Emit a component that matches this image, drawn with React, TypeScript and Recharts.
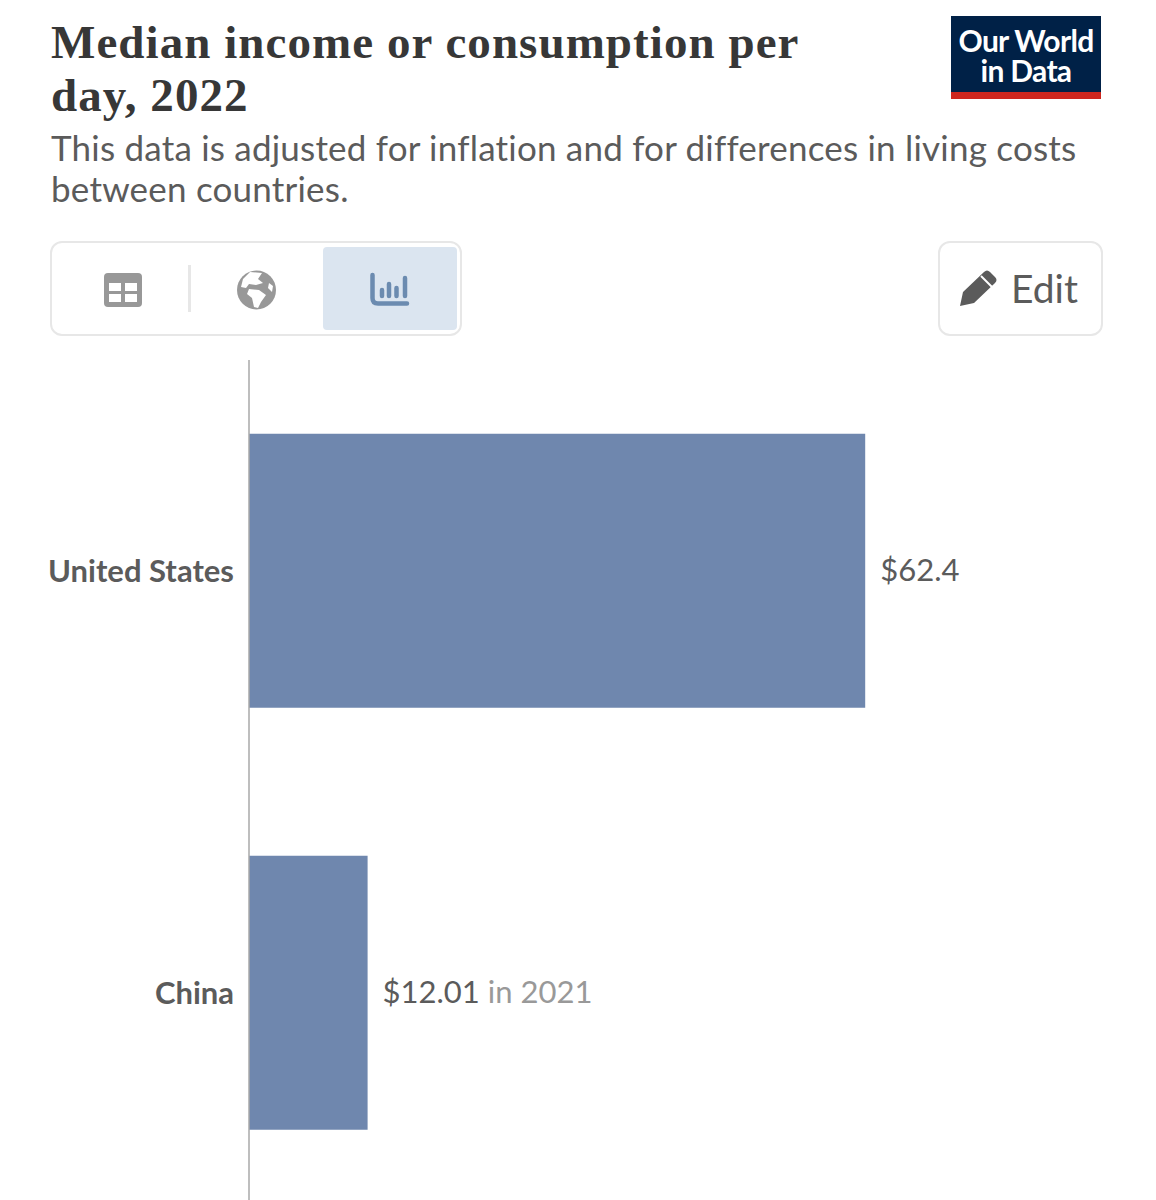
import { Bar, BarChart, LabelList, XAxis, YAxis } from "recharts";

const countries = ["United States", "China"];
const medianValues = [62.4, 12.01];
const valueLabels = ["$62.4", "$12.01"];
const yearNotes = ["", "in 2021"];

const data = countries.map((country, i) => ({
  country,
  value: medianValues[i],
  label: valueLabels[i],
  note: yearNotes[i],
}));

const LATO = "Lato, sans-serif";
const SERIF = "'Liberation Serif', 'DejaVu Serif', serif";

// Category names to the left of the axis line
const CountryTick = ({ x, y, payload }: any) => (
  <text
    x={x - 7}
    y={y + 11}
    textAnchor="end"
    fontFamily={LATO}
    fontWeight={700}
    fontSize={31}
    fill="#5b5b5b"
  >
    {payload.value}
  </text>
);

// Value at the bar end, with the grey year note after it
const ValueLabel = ({ x, y, width, height, index }: any) => (
  <text
    x={x + width + 15}
    y={y + height / 2 + 10}
    fontFamily={LATO}
    fontSize={31}
    fill="#5b5b5b"
  >
    {valueLabels[index]}
    {yearNotes[index] ? (
      <tspan fill="#999999" dx={8}>
        {yearNotes[index]}
      </tspan>
    ) : null}
  </text>
);

const Header = () => (
  <>
    <div
      style={{
        position: "absolute",
        left: 51,
        top: 16,
        width: 860,
        fontFamily: SERIF,
        fontWeight: 700,
        fontSize: 47,
        lineHeight: "53px",
        letterSpacing: 1.06,
        color: "#373737",
        whiteSpace: "pre",
      }}
    >
      {"Median income or consumption per\nday, 2022"}
    </div>
    <div
      style={{
        position: "absolute",
        left: 51,
        top: 127,
        fontFamily: LATO,
        fontSize: 35,
        lineHeight: "41px",
        letterSpacing: 0.21,
        color: "#5b5b5b",
        whiteSpace: "pre",
        fontVariantLigatures: "none",
      }}
    >
      {"This data is adjusted for inflation and for differences in living costs\nbetween countries."}
    </div>
  </>
);

const Logo = () => (
  <div
    style={{
      position: "absolute",
      left: 951,
      top: 16,
      width: 150,
      height: 67,
      background: "#002147",
      borderBottom: "7px solid #ce261e",
      color: "#fff",
      fontFamily: LATO,
      fontWeight: 700,
      fontSize: 30,
      lineHeight: "30px",
      letterSpacing: -0.7,
      textAlign: "center",
      paddingTop: 9,
      boxSizing: "content-box",
    }}
  >
    Our World
    <br />
    in Data
  </div>
);

const Controls = () => (
  <>
    <div
      style={{
        position: "absolute",
        left: 50,
        top: 241,
        width: 408,
        height: 91,
        border: "2px solid #e7e7e7",
        borderRadius: 12,
        background: "#fff",
      }}
    />
    <div
      style={{
        position: "absolute",
        left: 323,
        top: 247,
        width: 134,
        height: 83,
        background: "#dbe5f0",
        borderRadius: 4,
      }}
    />
    <div
      style={{
        position: "absolute",
        left: 188,
        top: 265,
        width: 3,
        height: 47,
        background: "#e7e7e7",
      }}
    />
    <svg
      style={{ position: "absolute", left: 0, top: 230 }}
      width={470}
      height={110}
      viewBox="0 230 470 110"
    >
      <rect x={104} y={273} width={38} height={34} rx={4} fill="#989898" />
      <rect x={109} y={283} width={12} height={8} fill="#fff" />
      <rect x={125} y={283} width={12} height={8} fill="#fff" />
      <rect x={109} y={294} width={12} height={8} fill="#fff" />
      <rect x={125} y={294} width={12} height={8} fill="#fff" />
      <circle cx={256.5} cy={290} r={19.5} fill="#989898" />
      <path
        d="M250 272 L262 273 L258 279 L263 283 L256 285 L249 284 L246 288 L241 287 L243 279 Z M249 289 L259 290 L266 295 L261 302 L258 308 L254 307 L252 298 L247 294 Z M269 283 L273 286 L272 292 L268 288 Z"
        fill="#fff"
      />
      <path
        d="M372.5 275 V298 Q372.5 303.5 378 303.5 H407"
        fill="none"
        stroke="#6b8bb0"
        strokeWidth={4.5}
        strokeLinecap="round"
      />
      <path
        d="M382 290 V296 M389 284 V296 M396.5 288 V296 M405 278 V296"
        fill="none"
        stroke="#6b8bb0"
        strokeWidth={4.5}
        strokeLinecap="round"
      />
    </svg>
    <div
      style={{
        position: "absolute",
        left: 938,
        top: 241,
        width: 161,
        height: 91,
        border: "2px solid #e7e7e7",
        borderRadius: 12,
        background: "#fff",
      }}
    />
    <svg
      style={{ position: "absolute", left: 955, top: 265 }}
      width={48}
      height={48}
      viewBox="955 265 48 48"
    >
      <path
        d="M960 306 L963 292 L984 272 Q987 269 990 272 L995 277 Q998 280 995 283 L974 303 Z"
        fill="#5b5b5b"
      />
      <path d="M981 276 L992 287" stroke="#fff" strokeWidth={2} />
    </svg>
    <div
      style={{
        position: "absolute",
        left: 1011,
        top: 265,
        fontFamily: LATO,
        fontSize: 39,
        lineHeight: "46px",
        color: "#5b5b5b",
      }}
    >
      Edit
    </div>
  </>
);

export default function App() {
  return (
    <div
      style={{
        position: "absolute",
        left: 0,
        top: 0,
        width: 1156,
        height: 1200,
        overflow: "hidden",
        background: "#fff",
      }}
    >
      <Header />
      <Logo />
      <Controls />
      <div style={{ position: "absolute", left: 0, top: 0 }}>
        <BarChart
          width={1156}
          height={1210}
          data={data}
          layout="vertical"
          barCategoryGap="17.5%"
          margin={{ top: 360, right: 117, bottom: 6, left: 0 }}
        >
          <XAxis type="number" domain={[0, 80]} hide />
          <YAxis
            type="category"
            dataKey="country"
            width={249}
            tick={<CountryTick />}
            tickLine={false}
            axisLine={{ stroke: "#a9a9a9", strokeWidth: 1.5 }}
          />
          <Bar dataKey="value" fill="#6f87ae" isAnimationActive={false}>
            <LabelList dataKey="label" content={<ValueLabel />} />
          </Bar>
        </BarChart>
      </div>
    </div>
  );
}
